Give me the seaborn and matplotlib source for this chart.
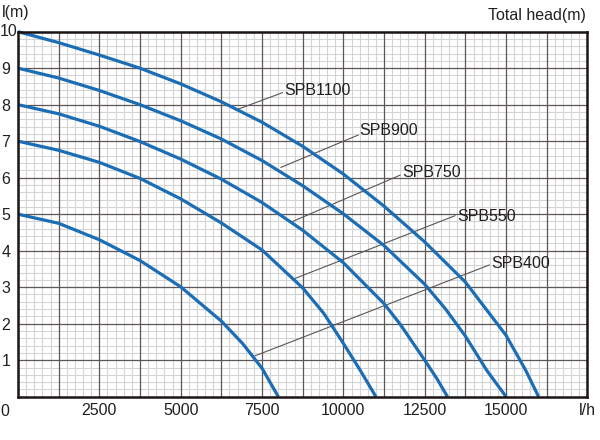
import matplotlib
matplotlib.use("Agg")
import matplotlib.pyplot as plt
import seaborn as sns
import numpy as np
import pandas as pd
from matplotlib.ticker import MultipleLocator

# pump curves: flow (l/h) vs total head (m)
flow_1100 = [0, 1250, 2500, 3750, 5000, 6250, 7500, 8750, 10000, 11250, 12500, 13750, 15000, 15600, 16000]
head_1100 = [10, 9.70, 9.36, 9.0, 8.57, 8.08, 7.52, 6.86, 6.10, 5.22, 4.24, 3.14, 1.68, 0.73, 0]

flow_900 = [0, 1250, 2500, 3750, 5000, 6250, 7500, 8750, 10000, 11250, 12500, 13125, 13750, 14400, 15000]
head_900 = [9, 8.73, 8.39, 8.0, 7.56, 7.06, 6.47, 5.78, 5.01, 4.14, 3.08, 2.42, 1.66, 0.73, 0]

flow_750 = [0, 1250, 2500, 3750, 5000, 6250, 7500, 8750, 10000, 11250, 11750, 12500, 12870, 13200]
head_750 = [8, 7.75, 7.41, 6.99, 6.51, 5.96, 5.32, 4.56, 3.67, 2.55, 1.98, 1.0, 0.5, 0]

flow_550 = [0, 1250, 2500, 3750, 5000, 6250, 7500, 8750, 9400, 10000, 10500, 11000]
head_550 = [7, 6.75, 6.42, 5.98, 5.42, 4.76, 4.02, 2.98, 2.28, 1.46, 0.75, 0]

flow_400 = [0, 1250, 2500, 3750, 5000, 6250, 6900, 7500, 8000]
head_400 = [5, 4.75, 4.30, 3.73, 3.01, 2.07, 1.46, 0.78, 0]

models = ["SPB1100", "SPB900", "SPB750", "SPB550", "SPB400"]
x_ticks = [0, 1250, 2500, 3750, 5000, 6250, 7500, 8750, 10000, 11250, 12500, 13750, 15000, 16250, 17500]
x_labels = ["", "", "2500", "", "5000", "", "7500", "", "10000", "", "12500", "", "15000", "", "l/h"]
y_ticks = [0, 1, 2, 3, 4, 5, 6, 7, 8, 9, 10]
y_labels = ["", "1", "2", "3", "4", "5", "6", "7", "8", "9", ""]

frames = []
for name, q, h in zip(models,
                      [flow_1100, flow_900, flow_750, flow_550, flow_400],
                      [head_1100, head_900, head_750, head_550, head_400]):
    frames.append(pd.DataFrame({"flow": q, "head": h, "model": name}))
df = pd.concat(frames, ignore_index=True)

sns.set_style("white")
plt.rcParams["font.family"] = ["Liberation Sans", "DejaVu Sans"]
txt = "#231f20"
blue = "#1b6db5"
major_c = "#5f5757"

fig = plt.figure(figsize=(6, 4.4), dpi=100)
ax = fig.add_axes([0.030, 0.0984, 0.949, 0.8296])

sns.lineplot(data=df, x="flow", y="head", hue="model", units="model", estimator=None,
             sort=False, palette=[blue] * 5, linewidth=2.3, legend=False, ax=ax, zorder=3)
for ln in ax.lines:
    ln.set_clip_on(False)
    ln.set_solid_joinstyle("round")
    ln.set_solid_capstyle("butt")

ax.set_xlim(0, 17500)
ax.set_ylim(0, 10)
ax.set_xticks(x_ticks, x_labels)
ax.set_yticks(y_ticks, y_labels)
ax.xaxis.set_minor_locator(MultipleLocator(250))
ax.yaxis.set_minor_locator(MultipleLocator(0.2))
ax.grid(which="minor", color="#d4d4d4", linewidth=0.8)
ax.grid(which="major", visible=False)
ax.set_axisbelow(True)
# major grid drawn on top of the fine grid
for t in x_ticks[1:-1]:
    ax.axvline(t, color=major_c, linewidth=0.9, zorder=1)
for t in y_ticks[1:-1]:
    ax.axhline(t, color=major_c, linewidth=0.9, zorder=1)

ax.tick_params(which="both", length=0, labelsize=11.5, colors=txt)
ax.tick_params(axis="x", pad=4.5)
ax.tick_params(axis="y", pad=8.6)
for lbl in ax.get_yticklabels():
    lbl.set_horizontalalignment("center")
ax.set_xlabel("")
ax.set_ylabel("")
for s in ax.spines.values():
    s.set_visible(True)
    s.set_color("#1a1414")
    s.set_linewidth(1.8)
    s.set_zorder(5)

# leader lines and model labels
leaders = [
    ("SPB1100", (6741, 7.87), (8131, 8.33), (8190, 8.38)),
    ("SPB900", (8076, 6.28), (10461, 7.17), (10490, 7.29)),
    ("SPB750", (8413, 4.79), (11743, 6.07), (11800, 6.14)),
    ("SPB550", (8515, 3.24), (13434, 4.96), (13500, 4.94)),
    ("SPB400", (7285, 1.12), (14488, 3.61), (14550, 3.66)),
]
for name, p0, p1, pt in leaders:
    ax.plot([p0[0], p1[0]], [p0[1], p1[1]], color="#5a5555", linewidth=0.8, zorder=2.5)
    ax.text(pt[0], pt[1], name, fontsize=11.5, color=txt, ha="left", va="center", zorder=4)

# corner labels that sit off the tick grid
ax.text(-0.0228, -0.041, "0", transform=ax.transAxes, fontsize=11.5, color=txt,
        ha="center", va="center")
ax.text(-0.0316, 1.0, "10", transform=ax.transAxes, fontsize=11.5, color=txt,
        ha="left", va="center")
fig.text(0.003, 1 - 13 / 440, "l(m)", fontsize=11.5, color=txt, ha="left", va="center")
fig.text(586 / 600, 1 - 15.5 / 440, "Total head(m)", fontsize=11.5, color=txt,
         ha="right", va="center")

fig.savefig("out.png", dpi=100)
